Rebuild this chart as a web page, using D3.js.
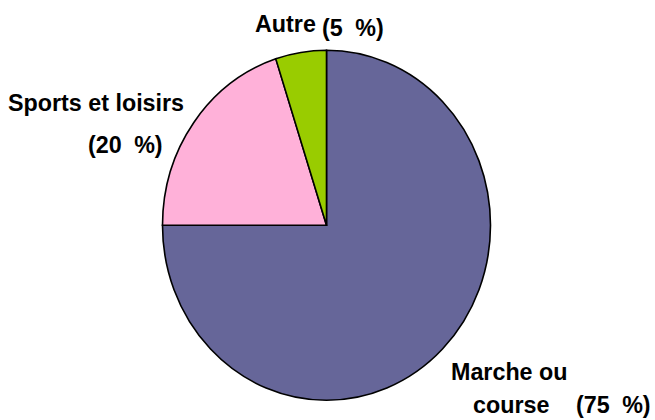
<!DOCTYPE html>
<html>
<head>
<meta charset="utf-8">
<script src="https://cdn.jsdelivr.net/npm/d3@7"></script>
<style>
  html, body { margin: 0; padding: 0; background: #fff; }
  svg text { font-family: "Liberation Sans", Arial, sans-serif; font-weight: bold; fill: #000; }
</style>
</head>
<body>
<svg id="chart" width="655" height="420"></svg>
<script>
// Data
const categories = ["Marche ou course", "Sports et loisirs", "Autre"];
const values = [75, 20, 5];
const colors = ["#666699", "#FFB1D9", "#99CC00"];
// Label text pieces (name lines, percentage)
const nameLines = [["Marche ou", "course"], ["Sports et loisirs"], ["Autre"]];
const pctLabels = values.map(v => "(" + v + "\u00A0%)");

const svg = d3.select("#chart");
const cx = 326.5, cy = 225.3, rx = 164, ry = 175;

const pie = d3.pie().sort(null).value(d => d)(values);
const arc = d3.arc().innerRadius(0).outerRadius(rx);

const g = svg.append("g")
  .attr("transform", `translate(${cx},${cy}) scale(1,${ry / rx})`);

g.selectAll("path")
  .data(pie)
  .join("path")
  .attr("d", arc)
  .attr("fill", (d, i) => colors[i])
  .attr("stroke", "#000")
  .attr("stroke-width", 1.6)
  .attr("vector-effect", "non-scaling-stroke")
  .attr("stroke-linejoin", "miter");

// Label layout (positions for each text piece)
const fs = 23.3;
const nameLayout = [
  [[451, 380], [473, 413]],
  [[8, 111]],
  [[255, 32]]
];
const pctLayout = [[576, 413], [88, 153], [322, 36]];

nameLines.forEach((lines, i) => {
  lines.forEach((t, j) => {
    svg.append("text")
      .attr("x", nameLayout[i][j][0])
      .attr("y", nameLayout[i][j][1])
      .attr("font-size", fs)
      .text(t);
  });
  svg.append("text")
    .attr("x", pctLayout[i][0])
    .attr("y", pctLayout[i][1])
    .attr("font-size", fs)
    .attr("word-spacing", 6)
    .text(pctLabels[i]);
});
</script>
</body>
</html>
